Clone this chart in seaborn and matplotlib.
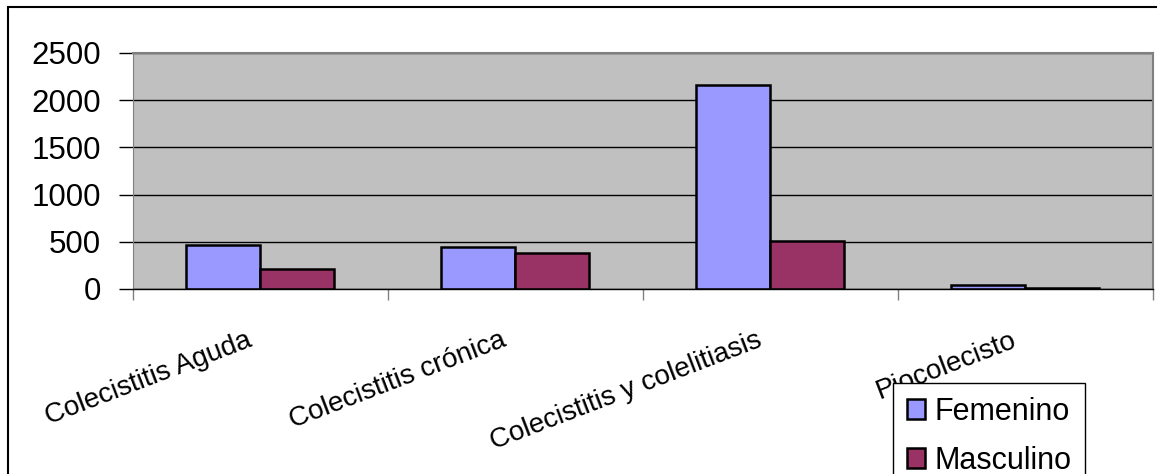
import matplotlib
matplotlib.use("Agg")
import numpy as np
import pandas as pd
import matplotlib.pyplot as plt
import matplotlib.transforms as mtransforms
from matplotlib.patches import Rectangle
import seaborn as sns

# ── Data ───────────────────────────────
categories = ["Colecistitis Aguda", "Colecistitis crónica",
              "Colecistitis y colelitiasis", "Piocolecisto"]
femenino = [462, 443, 2165, 39]
masculino = [209, 382, 506, 15]
series = ["Femenino", "Masculino"]
colors = ["#9999FF", "#993366"]
y_ticks = [0, 500, 1000, 1500, 2000, 2500]

df = pd.DataFrame({
    "cat": categories * 2,
    "val": femenino + masculino,
    "sexo": [series[0]] * len(categories) + [series[1]] * len(categories),
})

# ── Figure ─────────────────────────────
sns.set_style("white")
plt.rcParams["font.family"] = ["Liberation Sans", "DejaVu Sans"]
plt.rcParams["text.color"] = "black"
plt.rcParams["xtick.labelcolor"] = "black"
plt.rcParams["ytick.labelcolor"] = "black"

fig = plt.figure(figsize=(11.57, 4.74), dpi=100)
ax = fig.add_axes([132.7 / 1157, 185 / 474, 1020.3 / 1157, 236 / 474])

sns.barplot(data=df, x="cat", y="val", hue="sexo", palette=colors,
            width=0.58, gap=0, edgecolor="black", linewidth=1.8,
            saturation=1, ax=ax, legend=True)

ax.set_facecolor("#C0C0C0")
ax.set_ylim(0, 2500)
ax.set_xlim(-0.5, len(categories) - 0.5)
ax.set_yticks(y_ticks)
ax.set_yticklabels([str(v) for v in y_ticks], fontsize=22.5)
ax.yaxis.grid(True, color="black", linewidth=1)
ax.set_axisbelow(True)
ax.set_xlabel("")
ax.set_ylabel("")

for side in ["top", "right"]:
    ax.spines[side].set_color("#808080")
    ax.spines[side].set_linewidth(1.5)
ax.spines["left"].set_color("#808080")
ax.spines["bottom"].set_color("black")
ax.spines["bottom"].set_linewidth(1)

ax.tick_params(axis="y", which="major", direction="out", length=10,
               width=1, color="black", left=True, pad=13)

# category boundary ticks
ax.set_xticks(np.arange(len(categories) + 1) - 0.5, minor=True)
ax.tick_params(axis="x", which="minor", direction="out", length=8,
               width=1, color="#808080", bottom=True)
ax.tick_params(axis="x", which="major", length=0, pad=36)
ax.set_xticks(range(len(categories)))
ax.set_xticklabels(categories, fontsize=20, rotation=21, ha="right",
                   va="center", rotation_mode="anchor")
shift = mtransforms.ScaledTranslation(-10 / 100, 0, fig.dpi_scale_trans)
for lab in ax.get_xticklabels():
    lab.set_transform(lab.get_transform() + shift)

# legend (partly cut off by the figure edge, as in the original)
handles, labels = ax.get_legend_handles_labels()
ax.legend(handles, labels, loc="upper left",
          bbox_to_anchor=(893 / 1157, 1 - 383 / 474),
          bbox_transform=fig.transFigure, fontsize=22, frameon=True,
          fancybox=False, edgecolor="black", framealpha=1,
          handlelength=0.6, handleheight=0.6, handletextpad=0.3,
          labelspacing=0.62, borderpad=0.45, borderaxespad=0)

# outer chart border
fig.patches.append(Rectangle((8 / 1157, -0.05), 1.1, 1 - 7 / 474 + 0.05,
                             transform=fig.transFigure, fill=False,
                             edgecolor="black", linewidth=1.5))

fig.savefig("out.png", dpi=100)
